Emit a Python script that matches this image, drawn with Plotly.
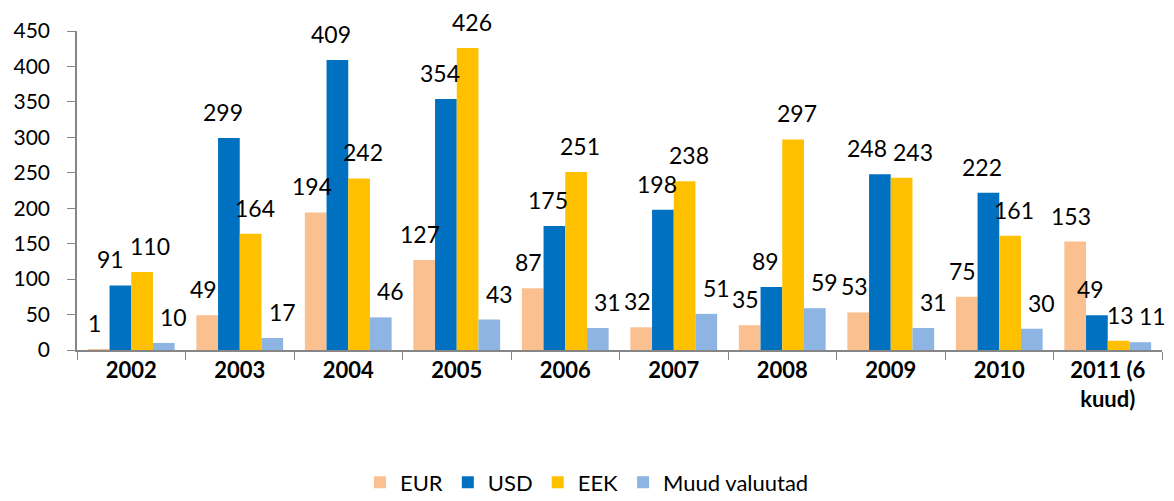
import plotly.graph_objects as go

years = ["2002", "2003", "2004", "2005", "2006", "2007", "2008", "2009", "2010", "2011 (6<br>kuud)"]
eur = [1, 49, 194, 127, 87, 32, 35, 53, 75, 153]
usd = [91, 299, 409, 354, 175, 198, 89, 248, 222, 49]
eek = [110, 164, 242, 426, 251, 238, 297, 243, 161, 13]
muud = [10, 17, 46, 43, 31, 51, 59, 31, 30, 11]

names = ["EUR", "USD", "EEK", "Muud valuutad"]
colors = ["#FAC090", "#0070C0", "#FFC000", "#8DB4E2"]
values = [eur, usd, eek, muud]

W, H = 1174, 501
ML, MR, MT, MB = 77, 12, 31, 151
YMAX = 450
bargap = 0.2
cat_px = (W - ML - MR) / len(years)
bar_px = cat_px * (1 - bargap) / len(names)
px_per_unit = (H - MT - MB) / YMAX
label_nudge = [-4, -6, 4, 10]  # Excel-like label spreading
LABEL_SIZE = 23
DIGIT_W = 0.58 * LABEL_SIZE
FONT = "Lato"

fig = go.Figure()
for name, vals, col in zip(names, values, colors):
    fig.add_trace(go.Bar(x=years, y=vals, name=name, marker_color=col,
                         marker_line_width=0))

# label placement with simple collision avoidance inside each group
annotations = []
for j in range(len(years)):
    xs = [(i - 1.5) * bar_px + label_nudge[i] for i in range(len(names))]
    ws = [len(str(values[i][j])) * DIGIT_W for i in range(len(names))]
    ys = [values[i][j] * px_per_unit for i in range(len(names))]
    for _ in range(5):
        for a in range(len(names) - 1):
            b = a + 1
            if abs(ys[a] - ys[b]) < 24:
                gap = (xs[b] - ws[b] / 2) - (xs[a] + ws[a] / 2)
                if gap < 6:
                    d = (6 - gap) / 2
                    xs[a] -= d
                    xs[b] += d
    for i in range(len(names)):
        annotations.append(dict(
            x=j, y=values[i][j], xref="x", yref="y", text=str(values[i][j]),
            showarrow=False, xanchor="center", yanchor="bottom",
            xshift=xs[i], yshift=10,
            font=dict(size=LABEL_SIZE, color="black", family=FONT),
        ))

fig.update_layout(
    width=W, height=H,
    margin=dict(l=ML, r=MR, t=MT, b=MB, autoexpand=False),
    barmode="group", bargap=bargap, bargroupgap=0,
    plot_bgcolor="white", paper_bgcolor="white",
    font=dict(family=FONT, color="black"),
    legend=dict(orientation="h", x=0.47, xanchor="center", y=-0.415, yanchor="middle",
                font=dict(size=22, family=FONT), itemwidth=30, traceorder="normal"),
    annotations=annotations,
)
fig.update_yaxes(range=[0, YMAX], dtick=50, showgrid=False, showline=True, linecolor="#868686",
                 linewidth=1.5, ticks="outside", ticklen=8, tickcolor="#868686",
                 tickfont=dict(size=21, family=FONT), ticklabelstandoff=13, zeroline=False)
fig.update_xaxes(type="category", range=[-0.5, len(years) - 0.5], showline=True,
                 linecolor="#868686", linewidth=1.5,
                 ticks="outside", tickson="boundaries", ticklen=8, tickcolor="#868686",
                 tickangle=0, tickfont=dict(size=22, family=FONT, weight="bold"))

fig.write_html("out.html")
